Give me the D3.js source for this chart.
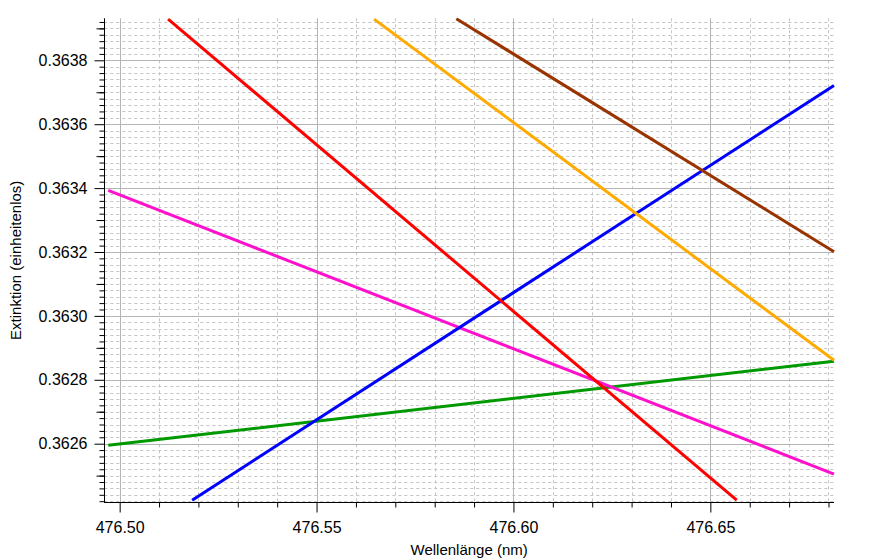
<!DOCTYPE html>
<html>
<head>
<meta charset="utf-8">
<script src="https://cdn.jsdelivr.net/npm/d3@7"></script>
<style>
  html, body { margin: 0; padding: 0; background: #fff; }
  svg { display: block; }
</style>
</head>
<body>
<script>
// ---- data (wavelength nm, extinction) : start/end points of each straight series ----
const redLine     = [[476.5123, 0.363929], [476.6567, 0.362423]];
const blueLine    = [[476.5184, 0.362423], [476.6814, 0.363721]];
const orangeLine  = [[476.5646, 0.363929], [476.6814, 0.362861]];
const brownLine   = [[476.5855, 0.363930], [476.6814, 0.363201]];
const magentaLine = [[476.4971, 0.363393], [476.6814, 0.362505]];
const greenLine   = [[476.4971, 0.362595], [476.6814, 0.362858]];

const seriesData   = [greenLine, magentaLine, blueLine, redLine, orangeLine, brownLine];
const seriesColors = ["#009900", "#ff10cc", "#0000ff", "#ff0000", "#ffaa00", "#993300"];

const xMajorTicks = [476.50, 476.55, 476.60, 476.65];
const yMajorTicks = [0.3626, 0.3628, 0.3630, 0.3632, 0.3634, 0.3636, 0.3638];
const xTitle = "Wellenlänge (nm)";
const yTitle = "Extinktion (einheitenlos)";

// ---- layout ----
const W = 872, H = 560;
const L = 104.3, R = 834, T = 18.3, B = 502.3;
const FONT = "'Liberation Sans', Arial, sans-serif";

const x = d3.scaleLinear().domain([476.4961, 476.6814]).range([L, R]);
const y = d3.scaleLinear().domain([0.3624165, 0.3639315]).range([B, T]);

const xMinor = d3.range(47650, 47669).map(i => i / 100);          // every 0.01
const yMinor = d3.range(18121, 18197).map(i => +(i * 0.00002).toFixed(5)); // every 0.00002
const yMid = d3.range(3624, 3640).filter(i => i % 2 === 1).map(i => i / 10000).filter(v => v >= y.domain()[0] && v <= y.domain()[1]);
const isMajorY = v => yMajorTicks.some(m => Math.abs(m - v) < 1e-9);
const isMajorX = v => xMajorTicks.some(m => Math.abs(m - v) < 1e-9);

const svg = d3.select("body").append("svg").attr("width", W).attr("height", H);

const px = v => Math.round(v) + 0.5;

// ---- grid ----
const grid = svg.append("g");
grid.selectAll("line.hminor").data(yMinor.filter(v => !isMajorY(v))).join("line")
  .attr("x1", L).attr("x2", R).attr("y1", d => px(y(d))).attr("y2", d => px(y(d)))
  .attr("stroke", "#c4c4c4").attr("stroke-width", 1).attr("stroke-dasharray", "3,3");
grid.selectAll("line.vminor").data(xMinor.filter(v => !isMajorX(v))).join("line")
  .attr("y1", T).attr("y2", B).attr("x1", d => px(x(d))).attr("x2", d => px(x(d)))
  .attr("stroke", "#c4c4c4").attr("stroke-width", 1).attr("stroke-dasharray", "3,3");
grid.selectAll("line.hmajor").data(yMajorTicks).join("line")
  .attr("x1", L).attr("x2", R).attr("y1", d => px(y(d))).attr("y2", d => px(y(d)))
  .attr("stroke", "#b4b4b4").attr("stroke-width", 1);
grid.selectAll("line.vmajor").data(xMajorTicks).join("line")
  .attr("y1", T).attr("y2", B).attr("x1", d => px(x(d))).attr("x2", d => px(x(d)))
  .attr("stroke", "#b4b4b4").attr("stroke-width", 1);

// ---- series ----
svg.append("clipPath").attr("id", "plotclip").append("rect")
  .attr("x", L).attr("y", T - 1).attr("width", R - L + 2).attr("height", B - T + 1);
const line = d3.line().x(d => x(d[0])).y(d => y(d[1]));
svg.append("g").attr("clip-path", "url(#plotclip)")
  .selectAll("path").data(seriesData).join("path")
  .attr("d", line).attr("fill", "none")
  .attr("stroke", (d, i) => seriesColors[i]).attr("stroke-width", 3);

// ---- axes ----
function styleAxis(g) {
  g.attr("font-family", FONT).attr("font-size", 16);
  g.selectAll("line").attr("stroke", "#000");
  g.selectAll("text").attr("fill", "#000");
}
// y axis
svg.append("g").attr("transform", `translate(${Math.round(L) + 0.5},0)`)
  .call(d3.axisLeft(y).tickValues(yMinor.filter(v => !isMajorY(v))).tickSize(5).tickFormat("").tickSizeOuter(0))
  .call(g => g.select(".domain").remove()).call(styleAxis);
svg.append("g").attr("transform", `translate(${Math.round(L) + 0.5},0)`)
  .call(d3.axisLeft(y).tickValues(yMid).tickSize(8).tickFormat("").tickSizeOuter(0))
  .call(g => g.select(".domain").remove()).call(styleAxis);
svg.append("g").attr("transform", `translate(${Math.round(L) + 0.5},0)`)
  .call(d3.axisLeft(y).tickValues(yMajorTicks).tickSize(10).tickPadding(7).tickFormat(d3.format(".4f")).tickSizeOuter(0))
  .call(g => g.select(".domain").remove()).call(styleAxis);
// x axis
svg.append("g").attr("transform", `translate(0,${Math.round(B) + 0.5})`)
  .call(d3.axisBottom(x).tickValues(xMinor.filter(v => !isMajorX(v))).tickSize(5).tickFormat("").tickSizeOuter(0))
  .call(g => g.select(".domain").remove()).call(styleAxis);
svg.append("g").attr("transform", `translate(0,${Math.round(B) + 0.5})`)
  .call(d3.axisBottom(x).tickValues(xMajorTicks).tickSize(10).tickPadding(9).tickFormat(d3.format(".2f")).tickSizeOuter(0))
  .call(g => g.select(".domain").remove()).call(styleAxis);

// axis lines
svg.append("line").attr("x1", Math.round(L) + 0.5).attr("x2", Math.round(L) + 0.5)
  .attr("y1", T).attr("y2", Math.round(B) + 1).attr("stroke", "#000");
svg.append("line").attr("x1", Math.round(L)).attr("x2", R)
  .attr("y1", Math.round(B) + 0.5).attr("y2", Math.round(B) + 0.5).attr("stroke", "#000");

// ---- titles ----
svg.append("text").attr("x", (L + R) / 2).attr("y", 555)
  .attr("text-anchor", "middle").attr("font-family", FONT).attr("font-size", 15)
  .attr("fill", "#000").text(xTitle);
svg.append("text").attr("transform", `translate(21,${(T + B) / 2}) rotate(-90)`)
  .attr("text-anchor", "middle").attr("font-family", FONT).attr("font-size", 15)
  .attr("fill", "#000").text(yTitle);
</script>
</body>
</html>
